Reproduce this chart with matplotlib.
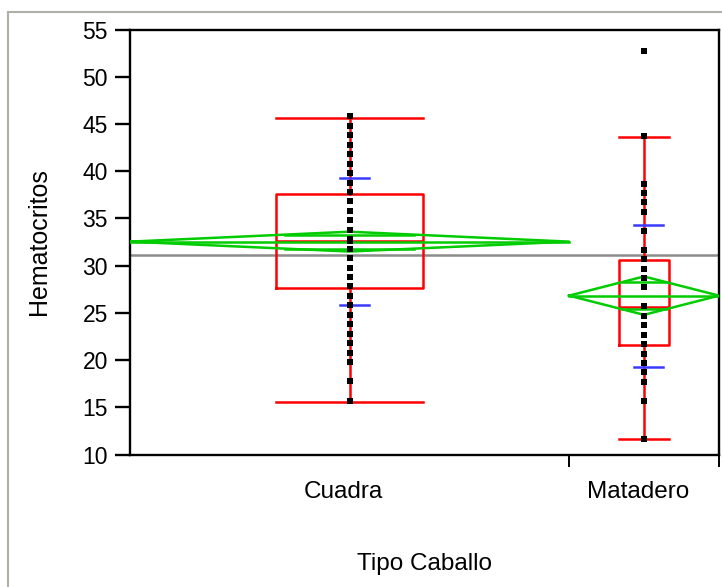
import numpy as np
import matplotlib
matplotlib.use("Agg")
import matplotlib.pyplot as plt
from matplotlib.transforms import blended_transform_factory
from matplotlib.lines import Line2D

plt.rcParams['font.family'] = ['Liberation Sans', 'DejaVu Sans']

# ---------------- data ----------------
categories = ["Cuadra", "Matadero"]
cuadra_values = [45.8, 44.8, 43.8, 42.8, 41.8, 40.8, 39.8, 38.8, 37.8, 36.8, 35.8,
                 34.8, 33.8, 32.8, 32.6, 31.8, 30.8, 29.8, 28.8, 27.8, 26.8, 25.8,
                 24.8, 23.8, 22.8, 21.8, 20.8, 19.8, 17.8, 15.7]
matadero_values = [52.7, 43.7, 38.7, 37.7, 36.7, 35.7, 33.7, 31.7, 30.7, 29.7, 28.7,
                   27.7, 25.7, 24.7, 23.7, 22.7, 21.7, 20.7, 19.7, 18.7, 17.7, 15.7, 11.7]
group_values = [cuadra_values, matadero_values]

grand_mean = 31.13
means = [32.55, 26.83]
ci_half = [1.05, 2.03]          # 95% CI half-width (means diamonds)
std_devs = [6.76, 7.52]
q1 = [27.61, 21.6]
medians = [32.62, 25.66]
q3 = [37.56, 30.6]
whisker_lo = [15.57, 11.62]
whisker_hi = [45.61, 43.6]

y_ticks = [10, 15, 20, 25, 30, 35, 40, 45, 50, 55]
x_label = "Tipo Caballo"
y_label = "Hematocritos"

# ---------------- layout / style ----------------
W, H, DPI = 722, 587, 100
GROUP_WIDTHS = [439.0, 150.0]   # horizontal extent of each group (px units)
BOX_FRAC = 0.333
RED, GREEN, BLUE, GREY = "#ff0000", "#00cc00", "#3a3aff", "#8c8c8c"
LW = 1.8

fig = plt.figure(figsize=(W / DPI, H / DPI), dpi=DPI)
ax_left, ax_right, ax_top, ax_bottom = 130, 719, 29.6, 454.6
ax = fig.add_axes([ax_left / W, (H - ax_bottom) / H,
                   (ax_right - ax_left) / W, (ax_bottom - ax_top) / H])

edges = np.concatenate([[0], np.cumsum(GROUP_WIDTHS)])
centers = (edges[:-1] + edges[1:]) / 2

ax.set_xlim(edges[0], edges[-1])
ax.set_ylim(10, 55)

# grand mean line
ax.axhline(grand_mean, color=GREY, lw=LW, zorder=1)

# box plots
stats = []
for i in range(len(categories)):
    stats.append(dict(med=medians[i], q1=q1[i], q3=q3[i],
                      whislo=whisker_lo[i], whishi=whisker_hi[i], fliers=[]))
bw = [BOX_FRAC * w for w in GROUP_WIDTHS]
ax.bxp(stats, positions=centers, widths=bw, capwidths=bw, showfliers=False,
       manage_ticks=False,
       boxprops=dict(color=RED, lw=LW), whiskerprops=dict(color=RED, lw=LW),
       capprops=dict(color=RED, lw=LW), medianprops=dict(color=RED, lw=LW),
       zorder=2)

# means diamonds
for i in range(len(categories)):
    x0, x1, xc = edges[i], edges[i + 1], centers[i]
    m, h = means[i], ci_half[i]
    ax.plot([x0, xc, x1, xc, x0], [m, m + h, m, m - h, m], color=GREEN, lw=LW, zorder=3)
    ax.plot([x0, x1], [m, m], color=GREEN, lw=LW, zorder=3)
    d = h / np.sqrt(2)
    half_w = (x1 - x0) / 2 * (1 - d / h)
    for s in (1, -1):
        ax.plot([xc - half_w, xc + half_w], [m + s * d, m + s * d], color=GREEN, lw=LW, zorder=3)
    # std dev marks
    for s in (1, -1):
        ax.plot([xc - 10, xc + 19], [means[i] + s * std_devs[i]] * 2, color=BLUE, lw=LW, zorder=4)

# points
for i, vals in enumerate(group_values):
    ax.plot([centers[i]] * len(vals), vals, 's', color='black', ms=3.9, mew=0, zorder=5)

# axes styling
for sp in ax.spines.values():
    sp.set_linewidth(1.7)
    sp.set_color('black')
ax.set_yticks(y_ticks)
ax.tick_params(axis='y', direction='out', length=11, width=1.7, labelsize=16.5, pad=5)
ax.set_xticks(edges[1:])
ax.set_xticklabels([])
ax.tick_params(axis='x', direction='out', length=8.5, width=1.4)

trans = blended_transform_factory(ax.transData, fig.transFigure)
for i, c in enumerate(categories):
    ax.text(centers[i] - 6, 1 - 498 / H, c, transform=trans, ha='center',
            va='baseline', fontsize=17.5)

fig.text(424.5 / W, 1 - 570 / H, x_label, ha='center', va='baseline', fontsize=17.5)
fig.text(39 / W, 1 - 242 / H, y_label, ha='center', va='center', rotation=90, fontsize=18)

# outer grey frame
fig.add_artist(Line2D([8 / W, 8 / W], [0, 1 - 12 / H], transform=fig.transFigure,
                      color='#b0b0a8', lw=1.5))
fig.add_artist(Line2D([8 / W, 1], [1 - 12 / H, 1 - 12 / H], transform=fig.transFigure,
                      color='#b0b0a8', lw=1.5))

fig.savefig("out.png", dpi=DPI)
